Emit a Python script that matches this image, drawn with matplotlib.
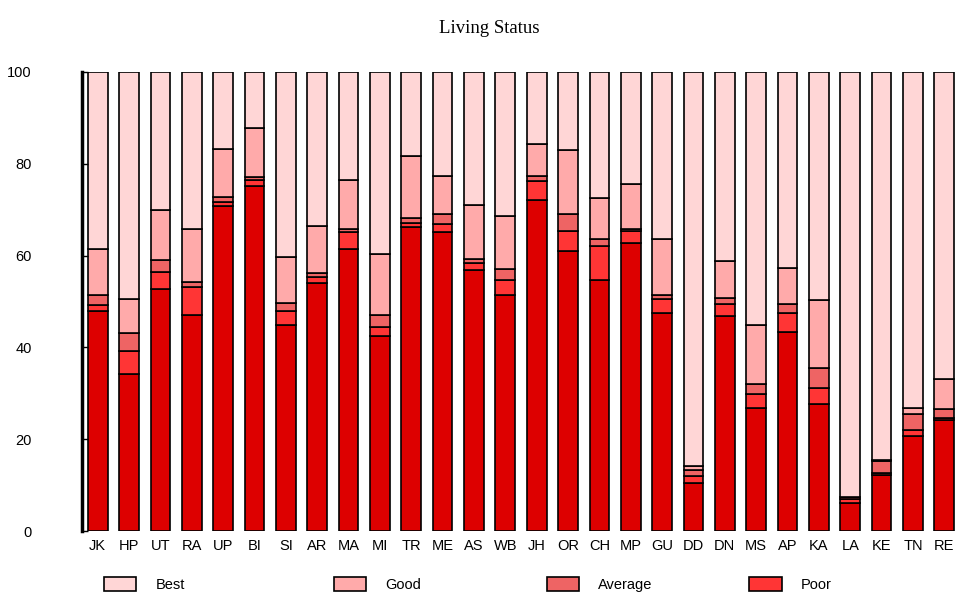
# Living Status - stacked percentage bars by state
import numpy as np
import matplotlib
matplotlib.use('Agg')
import matplotlib.pyplot as plt
from matplotlib.patches import Patch

# Data (percent of households)
states = ['JK', 'HP', 'UT', 'RA', 'UP', 'BI', 'SI', 'AR', 'MA', 'MI', 'TR', 'ME', 'AS', 'WB',
          'JH', 'OR', 'CH', 'MP', 'GU', 'DD', 'DN', 'MS', 'AP', 'KA', 'LA', 'KE', 'TN', 'RE']
very_poor = [48.0, 34.2, 52.8, 47.1, 70.8, 75.1, 44.9, 54.1, 61.5, 42.4, 66.2, 65.1, 56.8, 51.5,
             72.1, 61.0, 54.6, 62.7, 47.5, 10.5, 46.9, 26.8, 43.3, 27.7, 6.0, 12.3, 20.7, 24.2]
poor = [1.3, 5.1, 3.6, 6.0, 0.9, 1.3, 3.1, 1.2, 3.6, 2.1, 0.8, 1.7, 1.6, 3.1,
        4.2, 4.3, 7.4, 2.6, 3.1, 1.5, 2.6, 3.1, 4.1, 3.5, 1.0, 0.3, 1.4, 0.5]
average = [2.2, 3.9, 2.6, 1.1, 1.1, 0.7, 1.7, 1.0, 0.8, 2.6, 1.1, 2.2, 0.8, 2.5,
           1.0, 3.7, 1.7, 0.6, 0.9, 1.2, 1.3, 2.2, 2.1, 4.3, 0.5, 2.7, 3.4, 1.9]
good = [10.0, 7.4, 10.9, 11.7, 10.5, 10.7, 10.0, 10.1, 10.5, 13.2, 13.6, 8.3, 11.9, 11.5,
        7.1, 14.0, 8.9, 9.6, 12.2, 1.0, 8.0, 12.7, 7.9, 14.9, 0.0, 0.2, 1.3, 6.6]
best = [100 - a - b - c - d for a, b, c, d in zip(very_poor, poor, average, good)]

series = [very_poor, poor, average, good, best]
colors = ['#dd0000', '#ff3535', '#ee6464', '#ffaaaa', '#ffd6d6']

fig = plt.figure(figsize=(9.6, 5.98), dpi=100)
ax = fig.add_axes([0.0854, 0.112, 0.9146, 0.7676])

x = np.arange(len(states))
bottom = np.zeros(len(states))
for vals, col in zip(series, colors):
    ax.bar(x, vals, bottom=bottom, width=0.63, color=col, edgecolor='black', linewidth=1.2)
    bottom += np.array(vals)

ax.set_xlim(-0.5, len(states) - 0.5)
ax.set_ylim(0, 100)
ax.set_xticks(x)
ax.set_xticklabels(states, fontsize=10.5, family='Liberation Sans')
ax.set_yticks([0, 20, 40, 60, 80, 100])
ax.set_yticklabels(['0', '20', '40', '60', '80', '100'], fontsize=10.5, family='Liberation Sans')
ax.tick_params(axis='x', length=0, pad=6)
ax.tick_params(axis='y', direction='in', length=4, width=1, pad=36)
for s in ['top', 'right', 'bottom']:
    ax.spines[s].set_visible(False)
ax.spines['left'].set_linewidth(2.5)

fig.text(0.51, 0.952, 'Living Status', ha='center', va='center', fontsize=13.5, family='Liberation Serif')

# legend: four entries spread along the bottom
labels = ['Best', 'Good', 'Average', 'Poor']
leg_cols = [colors[4], colors[3], colors[2], colors[1]]
xpos = [0.095, 0.334, 0.556, 0.767]
for lab, col, xp in zip(labels, leg_cols, xpos):
    h = Patch(facecolor=col, edgecolor='black', linewidth=1.2)
    fig.legend(handles=[h], labels=[lab], loc='center left', bbox_to_anchor=(xp, 0.022),
               frameon=False, handlelength=2.2, handleheight=1.1, handletextpad=1.3,
               prop={'family': 'Liberation Sans', 'size': 10.5})

fig.savefig('out.png', dpi=100)
